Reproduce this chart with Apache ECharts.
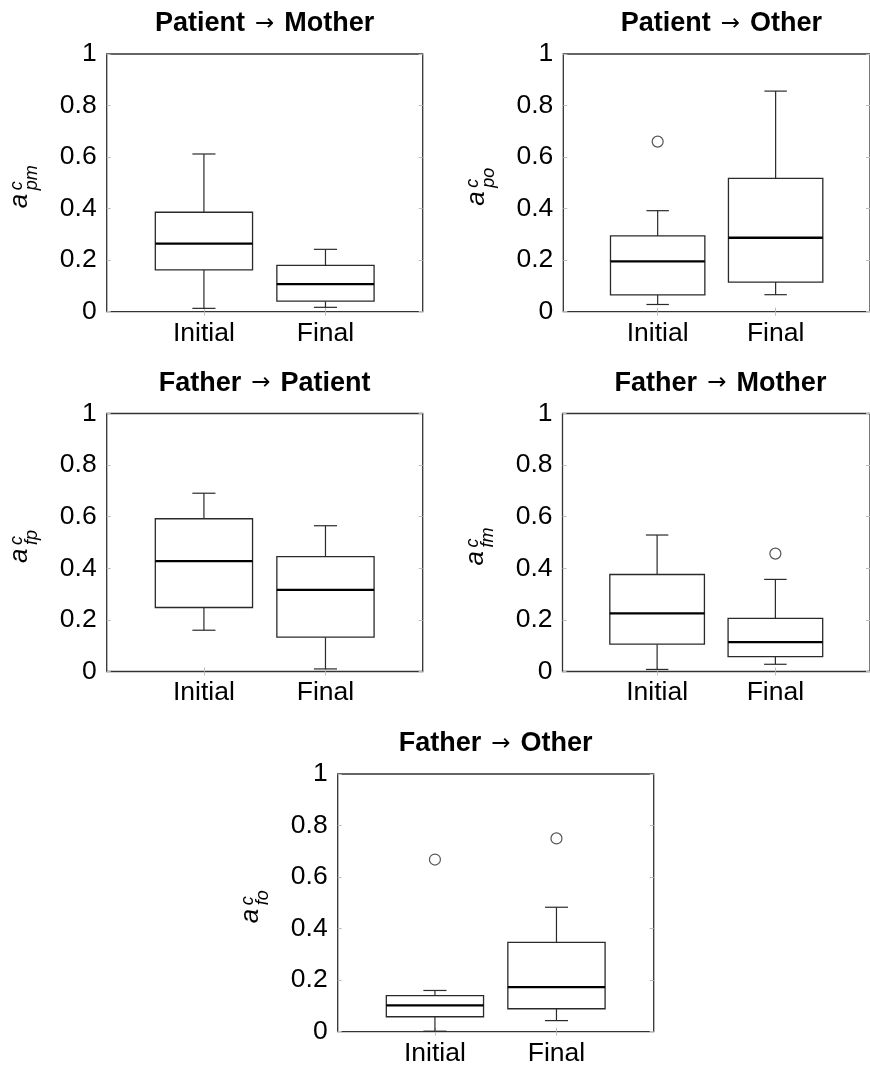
<!DOCTYPE html>
<html>
<head>
<meta charset="utf-8">
<script src="https://cdn.jsdelivr.net/npm/echarts@6/dist/echarts.min.js"></script>
<style>
html,body{margin:0;padding:0;background:#fff;}
#chart{width:870px;height:1067px;}
</style>
</head>
<body>
<div id="chart"></div>
<script>
// ---------- data ----------
const categories = ['Initial', 'Final'];
const yTicks = [0, 0.2, 0.4, 0.6, 0.8, 1];

// five-number summaries: [lower whisker, Q1, median, Q3, upper whisker]
const pmInitial = [0.013, 0.162, 0.264, 0.386, 0.612];
const pmFinal   = [0.017, 0.041, 0.107, 0.180, 0.242];
const poInitial = [0.028, 0.065, 0.195, 0.294, 0.392];
const poFinal   = [0.066, 0.115, 0.287, 0.517, 0.856];
const fpInitial = [0.160, 0.248, 0.428, 0.592, 0.691];
const fpFinal   = [0.010, 0.133, 0.316, 0.445, 0.565];
const fmInitial = [0.008, 0.106, 0.225, 0.376, 0.529];
const fmFinal   = [0.028, 0.058, 0.114, 0.206, 0.357];
const foInitial = [0.002, 0.058, 0.102, 0.140, 0.160];
const foFinal   = [0.043, 0.089, 0.173, 0.347, 0.483];

// outliers
const pmInitialOut = [];
const pmFinalOut   = [];
const poInitialOut = [0.660];
const poFinalOut   = [];
const fpInitialOut = [];
const fpFinalOut   = [];
const fmInitialOut = [];
const fmFinalOut   = [0.457];
const foInitialOut = [0.668];
const foFinalOut   = [0.750];

const titleFrom = ['Patient', 'Patient', 'Father', 'Father', 'Father'];
const titleTo   = ['Mother', 'Other', 'Patient', 'Mother', 'Other'];
const subscripts = ['pm', 'po', 'fp', 'fm', 'fo'];

// ---------- layout ----------
const grids = [
  {left: 106.7, top: 54,    width: 316, height: 257.7},
  {left: 563.3, top: 54,    width: 316, height: 257.7},
  {left: 106.7, top: 413.5, width: 316, height: 258},
  {left: 562.5, top: 413.5, width: 316, height: 258},
  {left: 337.7, top: 774,   width: 316, height: 257.7}
];

const panelBoxes = [
  [pmInitial, pmFinal], [poInitial, poFinal], [fpInitial, fpFinal],
  [fmInitial, fmFinal], [foInitial, foFinal]
];
const panelOut = [
  [pmInitialOut, pmFinalOut], [poInitialOut, poFinalOut], [fpInitialOut, fpFinalOut],
  [fmInitialOut, fmFinalOut], [foInitialOut, foFinalOut]
];

const FONT = '"Liberation Sans", Arial, Helvetica, sans-serif';
const frameColor = '#333';
const tickColor = '#bdbdbd';
const boxColor = '#2a2a2a';

function renderBox(params, api) {
  const x = api.value(0);
  const lo = api.coord([x, api.value(1)]);
  const q1 = api.coord([x, api.value(2)]);
  const md = api.coord([x, api.value(3)]);
  const q3 = api.coord([x, api.value(4)]);
  const hi = api.coord([x, api.value(5)]);
  const halfW = api.size([0.8, 0])[0] / 2;
  const capW = api.size([0.19, 0])[0] / 2;
  const cx = lo[0];
  const lineStyle = {stroke: boxColor, lineWidth: 1.2, fill: null};
  return {
    type: 'group',
    children: [
      {type: 'line', shape: {x1: cx, y1: q3[1], x2: cx, y2: hi[1]}, style: lineStyle},
      {type: 'line', shape: {x1: cx - capW, y1: hi[1], x2: cx + capW, y2: hi[1]}, style: lineStyle},
      {type: 'line', shape: {x1: cx, y1: q1[1], x2: cx, y2: lo[1]}, style: lineStyle},
      {type: 'line', shape: {x1: cx - capW, y1: lo[1], x2: cx + capW, y2: lo[1]}, style: lineStyle},
      {type: 'rect', shape: {x: cx - halfW, y: q3[1], width: 2 * halfW, height: q1[1] - q3[1]},
        style: {stroke: boxColor, lineWidth: 1.3, fill: '#fff'}},
      {type: 'line', shape: {x1: cx - halfW, y1: md[1], x2: cx + halfW, y2: md[1]},
        style: {stroke: '#000', lineWidth: 2.3}}
    ]
  };
}

const xAxes = [], yAxes = [], series = [], graphics = [];

const measureCtx = document.createElement('canvas').getContext('2d');
function textWidth(t, font) { measureCtx.font = font; return measureCtx.measureText(t).width; }

grids.forEach((g, i) => {
  // bottom x axis
  xAxes.push({
    gridIndex: i, type: 'value', min: 0.2, max: 2.8, position: 'bottom',
    axisLine: {show: false},
    splitLine: {show: false},
    axisTick: {show: true, inside: true, length: 4, customValues: [1, 2], lineStyle: {color: tickColor}},
    axisLabel: {show: true, customValues: [1, 2], margin: 8, fontSize: 26.5, fontFamily: FONT, color: '#000',
      formatter: v => categories[Math.round(v) - 1] || ''}
  });
  // top x axis (ticks only)
  xAxes.push({
    gridIndex: i, type: 'value', min: 0.2, max: 2.8, position: 'top',
    axisLine: {show: false}, splitLine: {show: false}, axisLabel: {show: false},
    axisTick: {show: true, inside: true, length: 4, customValues: [1, 2], lineStyle: {color: tickColor}}
  });
  // left y axis
  yAxes.push({
    gridIndex: i, type: 'value', min: 0, max: 1, interval: 0.2, position: 'left',
    axisLine: {show: false}, splitLine: {show: false},
    axisTick: {show: true, inside: true, length: 4, lineStyle: {color: tickColor}},
    axisLabel: {show: true, margin: 10, fontSize: 26.5, fontFamily: FONT, color: '#000',
      customValues: yTicks,
      formatter: v => String(+(+v).toFixed(1))}
  });
  // right y axis (ticks only)
  yAxes.push({
    gridIndex: i, type: 'value', min: 0, max: 1, interval: 0.2, position: 'right',
    axisLine: {show: false}, splitLine: {show: false}, axisLabel: {show: false},
    axisTick: {show: true, inside: true, length: 4, lineStyle: {color: tickColor}}
  });

  const boxes = panelBoxes[i];
  series.push({
    type: 'custom', xAxisIndex: 2 * i, yAxisIndex: 2 * i,
    renderItem: renderBox, clip: false,
    encode: {x: 0, y: [1, 2, 3, 4, 5]},
    data: boxes.map((b, k) => [k + 1].concat(b)),
    z: 5
  });
  const outs = [];
  panelOut[i].forEach((arr, k) => arr.forEach(v => outs.push([k + 1, v])));
  series.push({
    type: 'scatter', xAxisIndex: 2 * i, yAxisIndex: 2 * i,
    symbol: 'circle', symbolSize: 11,
    itemStyle: {color: '#fff', borderColor: boxColor, borderWidth: 1.2},
    data: outs, z: 6, silent: true
  });

  // title
  const cx = g.left + g.width / 2;
  const cy = g.top - 30;
  graphics.push({
    type: 'text', x: cx, y: cy, z: 10,
    style: {
      text: '{b|' + titleFrom[i] + '}{a|→}{b|' + titleTo[i] + '}',
      align: 'center', verticalAlign: 'middle', textAlign: 'center', textVerticalAlign: 'middle',
      rich: {
        b: {fontFamily: FONT, fontWeight: 'bold', fontSize: 27, lineHeight: 30, fill: '#000', color: '#000'},
        a: {fontFamily: '"DejaVu Sans"', fontWeight: 'normal', fontSize: 23, lineHeight: 30, fill: '#000', color: '#000', padding: [0, 10, 0, 10]}
      }
    }
  });

  // y axis name a^c_xx (rotated)
  const bigFont = 'italic 26px ' + FONT;
  const smallFont = 'italic 18px ' + FONT;
  const sub = subscripts[i];
  const scriptStart = 18;
  const totalLen = scriptStart + Math.max(textWidth('c', smallFont), textWidth(sub, smallFont));
  const baseX = g.left - 77.5;
  const startY = g.top + g.height / 2 + 4 + totalLen / 2;
  const ts = (t, x, y, font) => ({
    type: 'text', x: x, y: y,
    style: {text: t, font: font, fill: '#000', align: 'left', verticalAlign: 'middle',
      textAlign: 'left', textVerticalAlign: 'middle'}
  });
  graphics.push({
    type: 'group', x: baseX, y: startY, rotation: Math.PI / 2, z: 10,
    children: [
      ts('a', 0, -9, bigFont),
      ts('c', scriptStart, -12.5, smallFont),
      ts(sub, scriptStart, 3, smallFont)
    ]
  });
});

const chart = echarts.init(document.getElementById('chart'), null, {renderer: 'canvas'});
chart.setOption({
  animation: false,
  backgroundColor: '#fff',
  grid: grids.map(g => Object.assign({show: true, borderColor: frameColor, borderWidth: 1.3, backgroundColor: 'transparent', containLabel: false}, g)),
  xAxis: xAxes,
  yAxis: yAxes,
  series: series,
  graphic: graphics
});
</script>
</body>
</html>
